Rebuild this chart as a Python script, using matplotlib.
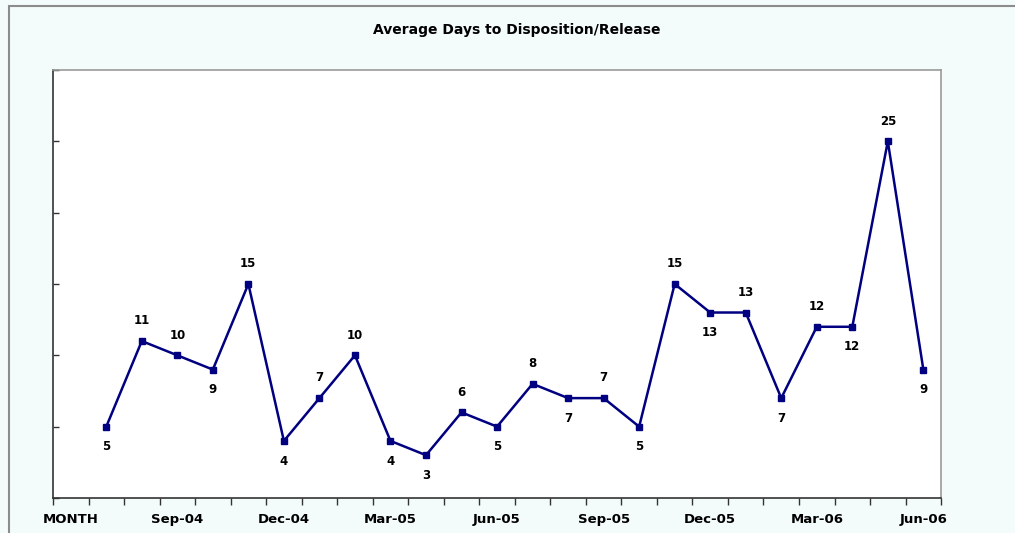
import matplotlib
matplotlib.use("Agg")
import matplotlib.pyplot as plt
from matplotlib.patches import Rectangle

# Monthly average days to disposition/release, Jul-04 .. Jun-06
months = ["Jul-04", "Aug-04", "Sep-04", "Oct-04", "Nov-04", "Dec-04",
          "Jan-05", "Feb-05", "Mar-05", "Apr-05", "May-05", "Jun-05",
          "Jul-05", "Aug-05", "Sep-05", "Oct-05", "Nov-05", "Dec-05",
          "Jan-06", "Feb-06", "Mar-06", "Apr-06", "May-06", "Jun-06"]
avg_days = [5, 11, 10, 9, 15, 4, 7, 10, 4, 3, 6, 5,
            8, 7, 7, 5, 15, 13, 13, 7, 12, 12, 25, 9]
# first category on the axis is the "MONTH" header slot with no data
categories = ["MONTH"] + months
shown_labels = ["MONTH", "Sep-04", "Dec-04", "Mar-05", "Jun-05",
                "Sep-05", "Dec-05", "Mar-06", "Jun-06"]
# where each value label sits relative to its point (reference layout)
label_above = [False, True, True, False, True, False, True, True, False, False, True, False,
               True, False, True, False, True, False, True, False, True, False, True, False]

navy = "#000080"
font = ["DejaVu Sans"]

fig = plt.figure(figsize=(10.15, 5.33), dpi=100)
fig.patch.set_facecolor("#f4fbfb")

# outer chart frame
fig.patches.append(Rectangle((0.009, -0.05), 1.2, 1.039, transform=fig.transFigure,
                             fill=False, edgecolor="#8c8c8c", linewidth=1.5))

ax = fig.add_axes([0.0522, 0.0657, 0.875, 0.803])
ax.set_facecolor("white")

x = list(range(1, len(categories)))
ax.plot(x, avg_days, color=navy, linewidth=1.8, marker="s", markersize=5,
        markerfacecolor=navy, markeredgecolor=navy)

for xi, v, up in zip(x, avg_days, label_above):
    ax.annotate(str(v), (xi, v), xytext=(0, 14.5 if up else -14.5),
                textcoords="offset points", ha="center",
                va="center", fontsize=8.5, fontweight="bold", family=font)

ax.set_xlim(-0.5, len(categories) - 0.5)
ax.set_ylim(0, 30)

# tick marks on category boundaries, labels on every third category
ax.set_xticks([b - 0.5 for b in range(len(categories) + 1)])
ax.set_xticklabels([])
ax.tick_params(axis="x", which="major", direction="out", length=5, width=1, color="#333333")
label_pos = [categories.index(lbl) for lbl in shown_labels]
ax.set_xticks(label_pos, minor=True)
ax.set_xticklabels(shown_labels, minor=True, fontsize=9.5, fontweight="bold", family=font)
ax.tick_params(axis="x", which="minor", length=0, pad=11)

ax.set_yticks(range(0, 31, 5))
ax.set_yticklabels([])
ax.tick_params(axis="y", direction="in", length=4, width=1, color="#333333")

ax.spines["left"].set_color("#333333")
ax.spines["bottom"].set_color("#333333")
ax.spines["top"].set_color("#9a9a9a")
ax.spines["right"].set_color("#9a9a9a")
for s in ax.spines.values():
    s.set_linewidth(1.2)

fig.text(0.509, 0.944, "Average Days to Disposition/Release", ha="center", va="center",
         fontsize=10, fontweight="bold", family=font)

fig.savefig("out.png", dpi=100, facecolor=fig.get_facecolor())
